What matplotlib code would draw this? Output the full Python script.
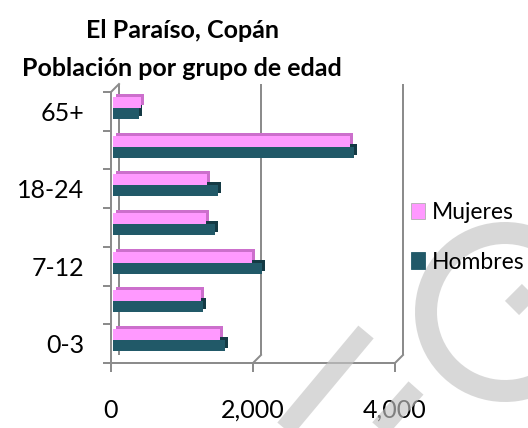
import matplotlib
matplotlib.use('Agg')
import matplotlib.pyplot as plt
import matplotlib.transforms as mtransforms
from matplotlib.patches import Patch, Arc
from matplotlib.lines import Line2D

plt.rcParams.update({
    'font.family': ['Lato', 'DejaVu Sans'],
    'font.size': 18,
})

# Datos (de abajo hacia arriba)
grupos = ['0-3', '4-6', '7-12', '13-17', '18-24', '25-64', '65+']
mujeres = [1510, 1240, 1960, 1310, 1320, 3340, 390]
hombres = [1580, 1270, 2100, 1440, 1480, 3390, 370]
ticks_x = [0, 2000, 4000]
etiquetas_x = ['0', '2,000', '4,000']

color_m = '#ff99ff'
color_m_osc = '#cc6fcc'
color_h = '#215968'
color_h_osc = '#143a44'
gris = '#8c8c8c'

W, H = 528, 428
PX = 0.72  # puntos por píxel a 100 dpi
fig = plt.figure(figsize=(W / 100, H / 100), dpi=100)
ax = fig.add_axes([111 / W, 1 - 363 / H, 284 / W, 271 / H])
n = len(grupos)
ax.set_xlim(0, 4000)
ax.set_ylim(-0.5, n - 0.5)
for s in ax.spines.values():
    s.set_visible(False)
ax.patch.set_visible(False)


def desplazar(dx, dy):
    return mtransforms.offset_copy(ax.transData, fig=fig, x=dx, y=dy, units='dots')


fondo = desplazar(8, 8)
sombra = desplazar(5, 6.5)
frente = desplazar(2, 3.5)

# barras con efecto 3D: cara trasera oscura + cara frontal
pos = list(range(n))
alto = 0.284
for trans, cm, ch, z in [(sombra, color_m_osc, color_h_osc, 2),
                         (frente, color_m, color_h, 3)]:
    bm = ax.barh(pos, mujeres, height=alto, align='edge', color=cm, zorder=z)
    bh = ax.barh(pos, hombres, height=-alto, align='edge', color=ch, zorder=z)
    for p in list(bm.patches) + list(bh.patches):
        p.set_transform(trans)

# paredes y líneas de división
kw = dict(color=gris, lw=2 * PX, clip_on=False, zorder=1, solid_capstyle='butt')
ax.plot([0, 0], [-0.5, n - 0.5], transform=ax.transData, **kw)
ax.plot([0, 4000], [-0.5, -0.5], transform=ax.transData, **kw)
ax.plot([0, 0], [-0.5, n - 0.5], transform=fondo, **kw)
for x in ticks_x[1:]:
    ax.plot([x, x], [-0.5, n - 0.5], transform=fondo, **kw)

# diagonales entre el plano frontal y el fondo
fig.canvas.draw()
for xd, yd in [(0, n - 0.5)] + [(x, -0.5) for x in ticks_x[1:]]:
    x0, y0 = ax.transData.transform((xd, yd))
    fig.add_artist(Line2D([x0, x0 + 8], [y0, y0 + 8],
                          transform=mtransforms.IdentityTransform(),
                          color=gris, lw=2 * PX))

# ejes
ax.set_yticks([i - 0.5 for i in range(n + 1)])
ax.set_yticklabels([])
ax.set_yticks(pos, [g if i % 2 == 0 else '' for i, g in enumerate(grupos)],
              minor=True)
ax.tick_params(axis='y', which='major', length=8 * PX, width=2 * PX, color=gris)
ax.tick_params(axis='y', which='minor', length=0, pad=27 * PX)
ax.set_xticks(ticks_x, etiquetas_x)
ax.tick_params(axis='x', length=9 * PX, width=2 * PX, color=gris, pad=27 * PX)

# título
fig.text(182 / W, 1 - 30 / H, 'El Paraíso, Copán', ha='center', va='center',
         fontsize=18, fontweight='bold')
fig.text(182 / W, 1 - 68 / H, 'Población por grupo de edad', ha='center',
         va='center', fontsize=18, fontweight='bold')

# leyenda
fig.legend(handles=[Patch(facecolor=color_m, edgecolor='#b0b0b0', lw=0.6),
                    Patch(facecolor=color_h, edgecolor=color_h, lw=0.6)],
           labels=['Mujeres', 'Hombres'], loc='upper left',
           bbox_to_anchor=(411 / W, 1 - 202 / H), frameon=False,
           fontsize=16.5, handlelength=0.62, handleheight=0.72,
           handletextpad=0.3, labelspacing=1.25, borderpad=0, borderaxespad=0)

# marca de agua gris
agua = '#c4c4c4'
kw_agua = dict(color=agua, alpha=0.65, lw=20 * PX, solid_capstyle='butt',
               transform=fig.transFigure)
fig.add_artist(Arc((505 / W, 1 - 312 / H), 2 * 79 / W, 2 * 79 / H,
                   theta1=40, theta2=330, color=agua, alpha=0.65,
                   lw=22 * PX, transform=fig.transFigure))
fig.add_artist(Line2D([512 / W, 545 / W], [1 - 308 / H, 1 - 275 / H], **kw_agua))
fig.add_artist(Line2D([366 / W, 280 / W], [1 - 332 / H, 1 - 435 / H], **kw_agua))
fig.add_artist(Line2D([416 / W, 370 / W], [1 - 388 / H, 1 - 440 / H], **kw_agua))

fig.savefig('out.png', dpi=100)
